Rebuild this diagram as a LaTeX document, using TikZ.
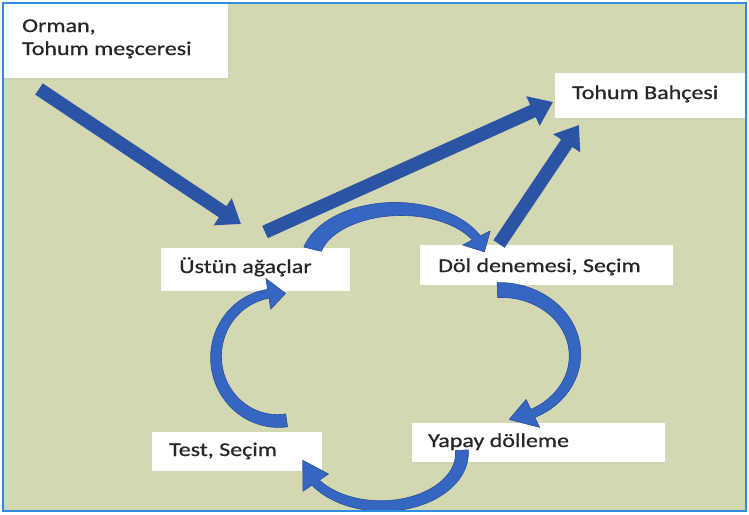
\documentclass[tikz,border=0pt]{standalone}
\usepackage{fontspec}
\setmainfont{Carlito}[FakeStretch=1.23, FakeBold=0.7]
\usetikzlibrary{arrows.meta}

\definecolor{bgkhaki}{HTML}{D3D7B2}
\definecolor{frameblue}{HTML}{2E8DE0}
\definecolor{arrowblue}{HTML}{2B54A5}
\definecolor{bendblue}{HTML}{3466C2}
\definecolor{bendedge}{HTML}{2A4F9C}
\definecolor{textgray}{HTML}{262626}

\tikzset{
  box/.style={fill=white, draw=none, inner sep=0pt, anchor=north west},
  label/.style={anchor=base west, inner sep=0pt, text=textgray,
    font=\fontsize{19.5}{23}\selectfont},
  bigarrow/.style={draw=arrowblue, line width=13.5pt,
    -{Triangle[width=31pt,length=22pt]}},
  bendfill/.style={fill=bendblue, draw=bendedge, line width=0.6pt, line join=round}
}

% Tapered curved arrow along an ellipse:
% #1,#2 centre; #3,#4 radii; #5 tail angle; #6 head-base angle;
% #7 tip angle; #8 tail width; #9 width at the head base
\newcommand{\headhalf}{15.5}
\newcommand{\bendarrow}[9]{%
  \path[bendfill]
    plot[domain=#5:#6, samples=50, variable=\t]
      ({#1+(#3+(#8+(#9-#8)*(\t-(#5))/((#6)-(#5)))/2)*cos(\t)},
       {#2+(#4+(#8+(#9-#8)*(\t-(#5))/((#6)-(#5)))/2)*sin(\t)})
    -- ({#1+(#3+\headhalf)*cos(#6)}, {#2+(#4+\headhalf)*sin(#6)})
    -- ({#1+#3*cos(#7)}, {#2+#4*sin(#7)})
    -- ({#1+(#3-\headhalf)*cos(#6)}, {#2+(#4-\headhalf)*sin(#6)})
    -- plot[domain=#6:#5, samples=50, variable=\t]
      ({#1+(#3-(#8+(#9-#8)*(\t-(#5))/((#6)-(#5)))/2)*cos(\t)},
       {#2+(#4-(#8+(#9-#8)*(\t-(#5))/((#6)-(#5)))/2)*sin(\t)})
    -- cycle;}

\begin{document}
\begin{tikzpicture}[x=1pt, y=-1pt]
  % page and framed panel
  \fill[white] (0,0) rectangle (749,514);
  \useasboundingbox (0,0) rectangle (749,514);
  \fill[bgkhaki] (3,3) rectangle (746,511);

  % white text boxes
  \node[box, minimum width=225pt, minimum height=75pt] (orman) at (3,3) {};
  \node[box, minimum width=191pt, minimum height=45pt] (bahce) at (555,73) {};
  \node[box, minimum width=189pt, minimum height=43pt] (ustun) at (161,248) {};
  \node[box, minimum width=253pt, minimum height=40pt] (dol) at (420,245) {};
  \node[box, minimum width=253pt, minimum height=39pt] (yapay) at (412,423) {};
  \node[box, minimum width=170pt, minimum height=39pt] (test) at (152,432) {};

  % labels
  \node[label] (orman-t1) at (22,32) {Orman,};
  \node[label] (orman-t2) at (22,55) {Tohum meşceresi};
  \node[label] (bahce-t) at (572,99) {Tohum Bahçesi};
  \node[label] (ustun-t) at (179,273) {Üstün ağaçlar};
  \node[label] (dol-t) at (438,272) {Döl denemesi, Seçim};
  \node[label] (yapay-t) at (428,447) {Yapay dölleme};
  \node[label] (test-t) at (169,456) {Test, Seçim};

  % straight arrows
  \coordinate (a1s) at (39,89);   \coordinate (a1e) at (241,224);
  \coordinate (a2s) at (265,232); \coordinate (a2e) at (553,102);
  \coordinate (a3s) at (499,244); \coordinate (a3e) at (579,125);
  \draw[bigarrow] (a1s) -- (a1e);
  \draw[bigarrow] (a2s) -- (a2e);
  \draw[bigarrow] (a3s) -- (a3e);

  % breeding cycle
  \bendarrow{398}{262}{88}{53}{194}{333}{349}{18}{9}
  \bendarrow{500}{355}{75}{65}{-92}{64}{83}{15}{9}
  \bendarrow{382}{453}{80}{53}{-3}{146}{172}{13}{9}
  \bendarrow{278}{357}{62}{64}{82}{261}{277}{13}{9}

  % panel frame
  \draw[frameblue, line width=2pt] (3,3) rectangle (746,511);
\end{tikzpicture}
\end{document}
